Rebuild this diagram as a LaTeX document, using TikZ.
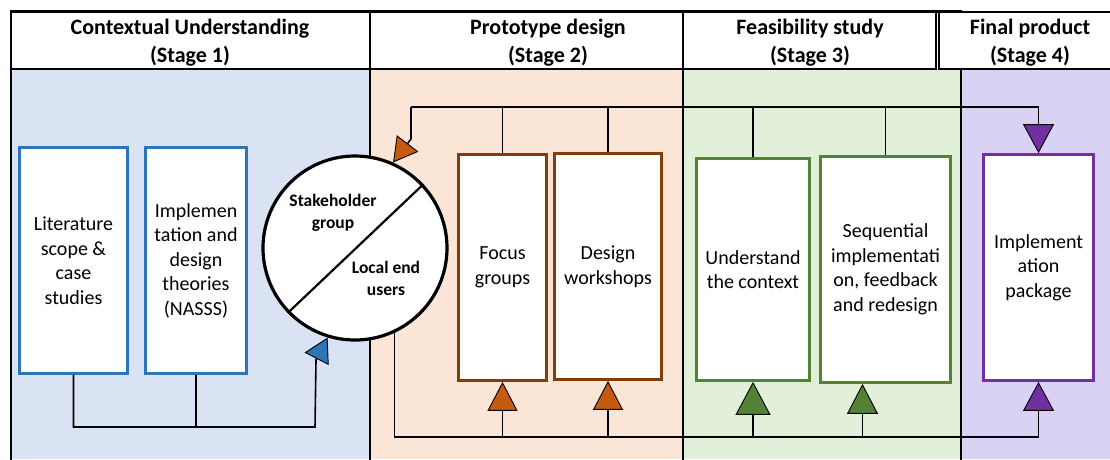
\documentclass[tikz,border=0pt]{standalone}
\usepackage{fontspec}
\setmainfont{Carlito}
\usetikzlibrary{arrows.meta}
\definecolor{bgblue}{HTML}{DAE3F3}
\definecolor{bgpeach}{HTML}{FBE5D6}
\definecolor{bggreen}{HTML}{E2F0D9}
\definecolor{bgpurple}{RGB}{218,210,245}
\definecolor{cblue}{HTML}{2E75B6}
\definecolor{cbrown}{HTML}{843C0C}
\definecolor{corange}{HTML}{C55A11}
\definecolor{cgreen}{HTML}{548235}
\definecolor{cpurple}{HTML}{7030A0}
\begin{document}
\begin{tikzpicture}[x=1pt,y=-1pt,
  hdr/.style={draw=black,fill=white,line width=1.6pt},
  divline/.style={draw=black,line width=2.2pt},
  htxt/.style={align=center,inner sep=0pt,font=\bfseries\fontsize{22}{28}\selectfont},
  procbox/.style={draw,fill=white,line width=2.7pt,align=center,inner sep=1pt,
    font=\fontsize{20}{24.5}\selectfont},
  ctxt/.style={align=center,inner sep=0pt,font=\bfseries\fontsize{17.5}{22}\selectfont},
  conn/.style={draw=black,line width=1.6pt},
  tipo/.style={conn,-{Triangle[length=24pt,width=27pt,fill=corange,line width=0.9pt]}},
  tipob/.style={conn,-{Triangle[length=29pt,width=30pt,fill=corange,line width=0.9pt]}},
  tipb/.style={conn,-{Triangle[length=24pt,width=27pt,fill=cblue,line width=0.9pt]}},
  tipg/.style={conn,-{Triangle[length=33pt,width=35pt,fill=cgreen,line width=0.9pt]}},
  tipgs/.style={conn,-{Triangle[length=30pt,width=31pt,fill=cgreen,line width=0.9pt]}},
  tipp/.style={conn,-{Triangle[length=29pt,width=31pt,fill=cpurple,line width=0.9pt]}}
]
\useasboundingbox (0,0) rectangle (1110,459);
% backgrounds
\fill[bgblue] (11,69) rectangle (370,459);
\fill[bgpeach] (370,69) rectangle (683,459);
\fill[bggreen] (683,69) rectangle (961,459);
\fill[bgpurple] (961,69) rectangle (1120,459);
% header boxes
\draw[hdr] (11,11) rectangle (370,69);
\draw[hdr] (370,11) rectangle (683,69);
\draw[hdr] (683,11) rectangle (936,69);
\draw[hdr] (939,12) rectangle (1120,69);
\draw[line width=3pt] (11,11) -- (962,11);
% dividers
\draw[divline] (11,11) -- (11,462);
\draw[divline] (370,69) -- (370,462);
\draw[divline] (683,69) -- (683,462);
\draw[divline] (961,69) -- (961,462);
% header texts
\node[htxt] (h1) at (190,42.5) {Contextual Understanding\\(Stage 1)};
\node[htxt] (h2) at (548,42.5) {Prototype design\\(Stage 2)};
\node[htxt] (h3) at (810,42.5) {Feasibility study\\(Stage 3)};
\node[htxt] (h4) at (1030,42.5) {Final product\\(Stage 4)};
% stage 1 boxes
\node[procbox,draw=cblue,minimum width=108pt,minimum height=226pt] (lit) at (73.5,260.5)
  {Literature\\scope \&\\case\\studies};
\node[procbox,draw=cblue,minimum width=101pt,minimum height=226pt] (impl) at (196,260.5)
  {Implemen\\tation and\\design\\theories\\(NASSS)};
% circle
\node[circle,draw=black,fill=white,line width=3.2pt,minimum size=184pt,inner sep=0pt] (circ) at (355,248) {};
\draw[line width=2.2pt] (circ.43) -- (circ.224);
\node[ctxt] (stake) at (333,213) {Stakeholder\\group};
\node[ctxt] (local) at (386,278) {Local end\\users};
% stage 2 boxes
\node[procbox,draw=cbrown,minimum width=88pt,minimum height=226pt] (focus) at (502.5,267.5)
  {Focus\\groups};
\node[procbox,draw=cbrown,minimum width=107pt,minimum height=226pt] (design) at (608,266.5)
  {Design\\workshops};
% stage 3 boxes
\node[procbox,draw=cgreen,minimum width=113pt,minimum height=222pt] (under) at (753,269.5)
  {Understand\\the context};
\node[procbox,draw=cgreen,minimum width=130pt,minimum height=226pt] (seq) at (885.5,269.5)
  {Sequential\\implementati\\on, feedback\\and redesign};
% stage 4 box
\node[procbox,draw=cpurple,minimum width=110pt,minimum height=226pt] (pkg) at (1038.5,267.5)
  {Implement\\ation\\package};
% coordinates for connector bends
\coordinate (tl) at (411,107);
\coordinate (obend) at (411,139);
\coordinate (bot) at (0,437);
\coordinate (bc) at (315,427);
\coordinate (bbend) at (316,360);
% blue feedback into the circle
\draw[conn] (impl.south) -- (impl.south |- bc);
\draw[tipb] (lit.south) |- (bc) -- (bbend) -- (circ.253);
% top line
\draw[tipo] (tl) -- (obend) -- (circ.66);
\draw[tipp] (tl) -| (pkg.north);
\draw[conn] (focus.north) -- (focus.north |- tl);
\draw[conn] (design.north) -- (design.north |- tl);
\draw[conn] (under.north) -- (under.north |- tl);
\draw[conn] (seq.north) -- (seq.north |- tl);
% bottom line
\draw[tipp] (circ.295) |- (pkg.south |- bot) -- (pkg.south);
\draw[tipob] (focus.south |- bot) -- (focus.south);
\draw[tipob] (design.south |- bot) -- (design.south);
\draw[tipg] (under.south |- bot) -- (under.south);
\draw[tipgs] ([xshift=-23pt]seq.south |- bot) -- ([xshift=-23pt]seq.south);
\end{tikzpicture}
\end{document}
